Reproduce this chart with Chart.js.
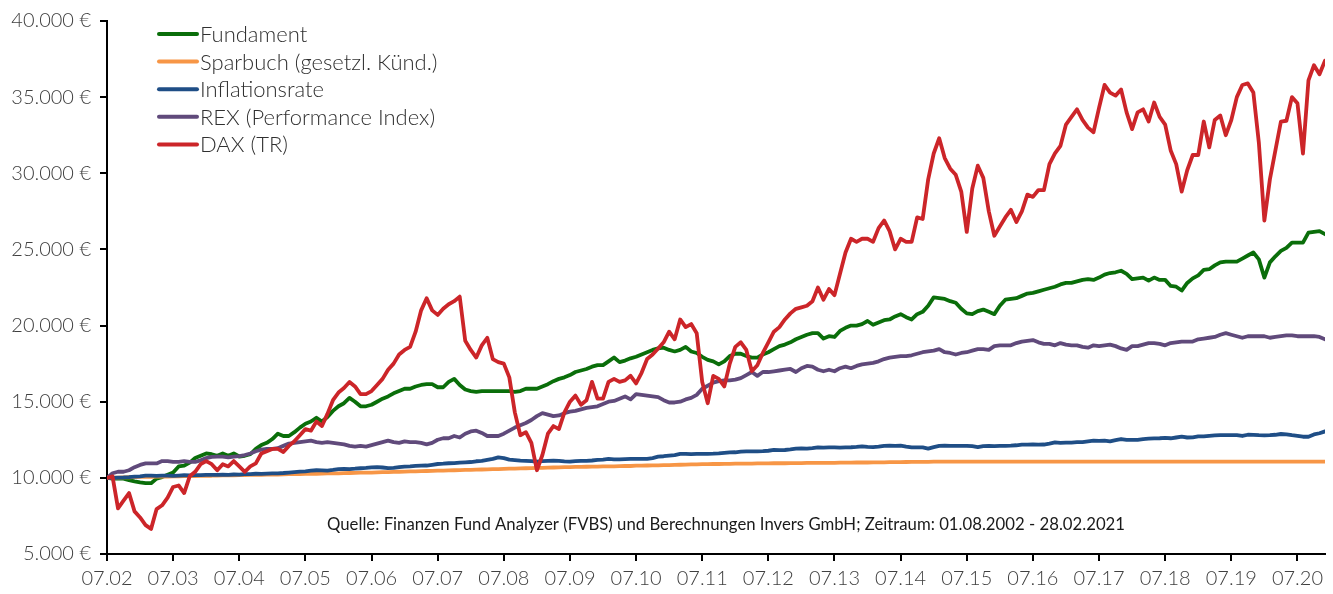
<!DOCTYPE html>
<html>
<head>
<meta charset="utf-8">
<script src="https://cdn.jsdelivr.net/npm/chart.js@4"></script>
<style>
  html, body { margin: 0; padding: 0; background: #fff; }
  canvas { display: block; }
</style>
</head>
<body>
<canvas id="chart" width="1333" height="594"></canvas>
<script>
// Monatswerte (Index 0 = 07.02), Startwert 10.000 €
const xTickLabels = ["07.02", "07.03", "07.04", "07.05", "07.06", "07.07", "07.08", "07.09", "07.10",
  "07.11", "07.12", "07.13", "07.14", "07.15", "07.16", "07.17", "07.18", "07.19", "07.20"];

const fundament = [
  10000, 9950, 9950, 9950, 9850, 9770, 9700, 9650, 9650, 9950, 10050, 10200,
  10350, 10750, 10800, 11000, 11300, 11450, 11600, 11550, 11450, 11600, 11450, 11600,
  11400, 11450, 11550, 11900, 12150, 12300, 12550, 12900, 12750, 12750, 13000, 13300,
  13550, 13700, 13950, 13700, 14000, 14400, 14700, 14900, 15250, 15000, 14700, 14700,
  14800, 15000, 15200, 15350, 15550, 15700, 15850, 15850, 16000, 16100, 16150, 16150,
  15950, 15950, 16300, 16500, 16100, 15800, 15700, 15650, 15700, 15700, 15700, 15700,
  15700, 15700, 15650, 15700, 15850, 15850, 15850, 16000, 16150, 16350, 16500, 16600,
  16750, 16950, 17050, 17150, 17300, 17400, 17400, 17650, 17900, 17600, 17700, 17850,
  17950, 18100, 18250, 18400, 18500, 18550, 18400, 18300, 18400, 18600, 18300, 18200,
  17950, 17750, 17650, 17450, 17650, 18000, 18150, 18150, 18000, 17900, 17900, 18100,
  18250, 18450, 18650, 18750, 18900, 19100, 19250, 19400, 19500, 19500, 19150, 19300,
  19250, 19650, 19850, 20000, 20000, 20100, 20300, 20050, 20200, 20350, 20400, 20600,
  20750, 20550, 20400, 20750, 20900, 21300, 21850, 21800, 21750, 21600, 21500, 21100,
  20800, 20750, 20950, 21050, 20900, 20750, 21300, 21700, 21750, 21800, 21950, 22100,
  22150, 22250, 22350, 22450, 22550, 22700, 22800, 22800, 22900, 23000, 23050, 23000,
  23150, 23350, 23450, 23500, 23600, 23400, 23050, 23100, 23150, 22950, 23150, 23000,
  23000, 22600, 22550, 22300, 22800, 23100, 23300, 23650, 23700, 23950, 24150, 24200,
  24200, 24200, 24400, 24600, 24800, 24350, 23150, 24150, 24550, 24900, 25100, 25450,
  25450, 25450, 26100, 26150, 26200, 26000
];

const sparbuch = [
  10000, 10010, 10020, 10030, 10040, 10050, 10060, 10060, 10070, 10080, 10080, 10090,
  10100, 10100, 10110, 10120, 10120, 10130, 10140, 10140, 10150, 10160, 10160, 10170,
  10180, 10180, 10190, 10200, 10200, 10210, 10220, 10220, 10230, 10240, 10240, 10250,
  10260, 10260, 10270, 10280, 10290, 10300, 10300, 10310, 10320, 10330, 10340, 10340,
  10350, 10360, 10370, 10380, 10390, 10400, 10410, 10420, 10430, 10440, 10450, 10460,
  10470, 10480, 10490, 10500, 10510, 10520, 10530, 10540, 10550, 10560, 10570, 10580,
  10590, 10600, 10610, 10620, 10630, 10640, 10650, 10660, 10670, 10680, 10690, 10700,
  10710, 10720, 10720, 10730, 10740, 10740, 10750, 10760, 10760, 10770, 10780, 10780,
  10800, 10800, 10810, 10820, 10820, 10830, 10840, 10850, 10860, 10870, 10880, 10890,
  10900, 10900, 10910, 10910, 10920, 10920, 10930, 10930, 10940, 10940, 10950, 10950,
  10950, 10960, 10960, 10960, 10970, 10970, 10970, 10980, 10980, 10980, 10990, 10990,
  10990, 11000, 11000, 11000, 11010, 11010, 11010, 11020, 11020, 11020, 11030, 11030,
  11030, 11040, 11050, 11050, 11050, 11050, 11060, 11060, 11060, 11060, 11060, 11060,
  11060, 11060, 11060, 11060, 11060, 11060, 11060, 11060, 11060, 11060, 11060, 11060,
  11060, 11060, 11060, 11060, 11060, 11060, 11060, 11060, 11060, 11060, 11060, 11060,
  11060, 11060, 11060, 11060, 11060, 11060, 11060, 11060, 11060, 11060, 11060, 11060,
  11060, 11060, 11060, 11060, 11060, 11060, 11060, 11060, 11060, 11060, 11060, 11060,
  11060, 11060, 11060, 11060, 11060, 11060, 11060, 11060, 11060, 11060, 11060, 11060,
  11060, 11060, 11060, 11060, 11060, 11060
];

const inflation = [
  10000, 10000, 10020, 10030, 10050, 10080, 10100, 10150, 10150, 10130, 10150, 10150,
  10130, 10150, 10170, 10160, 10180, 10180, 10190, 10200, 10200, 10210, 10200, 10220,
  10210, 10240, 10250, 10270, 10260, 10280, 10300, 10300, 10320, 10350, 10380, 10410,
  10430, 10470, 10500, 10490, 10480, 10520, 10570, 10590, 10580, 10600, 10630, 10650,
  10690, 10700, 10680, 10640, 10660, 10700, 10740, 10760, 10790, 10800, 10810, 10860,
  10910, 10930, 10960, 10970, 11000, 11020, 11040, 11090, 11110, 11180, 11250, 11350,
  11300, 11200, 11170, 11130, 11120, 11100, 11070, 11100, 11120, 11130, 11110, 11080,
  11070, 11100, 11110, 11120, 11140, 11180, 11200, 11240, 11220, 11220, 11230, 11240,
  11240, 11250, 11250, 11300, 11390, 11420, 11460, 11500, 11570, 11570, 11560, 11570,
  11580, 11580, 11590, 11610, 11640, 11670, 11680, 11720, 11740, 11740, 11740, 11750,
  11780, 11830, 11820, 11830, 11870, 11920, 11940, 11920, 11950, 12000, 11990, 12000,
  12000, 11980, 12000, 12010, 12030, 12070, 12030, 12020, 12050, 12100, 12110, 12100,
  12110, 12050, 12000, 12000, 12000, 11920, 12020, 12100, 12110, 12100, 12100, 12100,
  12100, 12080, 12020, 12080, 12100, 12080, 12100, 12100, 12110, 12140, 12180, 12180,
  12190, 12180, 12190, 12250, 12330, 12300, 12310, 12320, 12340, 12350, 12400, 12440,
  12430, 12440, 12390, 12480, 12550, 12500, 12490, 12500, 12550, 12570, 12590, 12600,
  12620, 12600, 12650, 12700, 12650, 12660, 12720, 12720, 12760, 12790, 12810, 12800,
  12810, 12800, 12750, 12830, 12820, 12800, 12790, 12800, 12830, 12880, 12860, 12800,
  12760, 12700, 12700, 12850, 12930, 13050
];

const rex = [
  10000, 10300, 10400, 10400, 10500, 10700, 10850, 10950, 10950, 10950, 11100, 11100,
  11050, 11050, 11100, 11050, 11050, 11150, 11300, 11380, 11400, 11400, 11350, 11400,
  11430, 11500, 11600, 11750, 11850, 11900, 11900, 11950, 12100, 12250, 12300, 12350,
  12400, 12450, 12350, 12300, 12350, 12300, 12250, 12200, 12100, 12050, 12100, 12050,
  12150, 12250, 12350, 12450, 12350, 12300, 12400, 12350, 12350, 12300, 12200, 12300,
  12500, 12600, 12600, 12750, 12650, 12900, 13050, 13100, 12950, 12750, 12750, 12750,
  12900, 13100, 13300, 13450, 13600, 13800, 14050, 14250, 14150, 14050, 14100, 14250,
  14350, 14400, 14500, 14600, 14650, 14700, 14850, 15000, 15050, 15200, 15350, 15150,
  15500, 15450, 15400, 15350, 15300, 15100, 14950, 14950, 15000, 15150, 15250, 15450,
  15850, 16050, 16250, 16350, 16400, 16400, 16450, 16550, 16750, 16950, 16700, 16950,
  16950, 17000, 17050, 17100, 17150, 16950, 17200, 17350, 17300, 17100, 17000, 17100,
  17000, 17200, 17300, 17200, 17350, 17450, 17500, 17550, 17650, 17800, 17900, 17950,
  18000, 18000, 18050, 18150, 18250, 18300, 18350, 18450, 18250, 18200, 18100, 18200,
  18250, 18350, 18450, 18450, 18400, 18650, 18700, 18700, 18700, 18850, 18950, 19000,
  19050, 18900, 18800, 18800, 18700, 18850, 18750, 18700, 18700, 18600, 18550, 18700,
  18650, 18700, 18750, 18650, 18500, 18400, 18650, 18650, 18750, 18850, 18850, 18800,
  18700, 18850, 18900, 18950, 18950, 18950, 19100, 19150, 19200, 19250, 19400, 19500,
  19400, 19300, 19200, 19300, 19300, 19300, 19300, 19200, 19250, 19300, 19350, 19350,
  19300, 19300, 19300, 19300, 19250, 19100
];

const dax = [
  10000, 10100, 8000, 8500, 9000, 7800, 7400, 6900, 6650, 7950, 8200, 8700,
  9400, 9500, 9000, 10100, 10400, 10900, 11100, 10900, 10500, 10900, 10750, 11100,
  10750, 10400, 10750, 10950, 11600, 11750, 11900, 11900, 11700, 12100, 12400, 12800,
  13200, 13100, 13700, 13400, 14200, 15100, 15600, 15900, 16300, 16000, 15500, 15500,
  15700, 16100, 16500, 17100, 17500, 18100, 18400, 18600, 19600, 21000, 21800, 21000,
  20700, 21100, 21400, 21600, 21900, 19000, 18400, 17900, 18700, 19200, 17800, 17600,
  17500, 16600, 14300, 12800, 13000, 12300, 10500, 11500, 12900, 13400, 13200, 14300,
  15000, 15400, 14800, 15100, 16300, 15200, 15200, 16300, 16500, 16300, 16400, 16700,
  16200, 16900, 17800, 18100, 18500, 18900, 19600, 19100, 20400, 19900, 20100, 19500,
  16300, 14900, 16700, 16500, 16000, 17500, 18600, 18900, 18400, 17000, 17400, 18200,
  18900, 19600, 19900, 20400, 20800, 21100, 21200, 21300, 21600, 22500, 21700, 22400,
  22000, 23400, 24800, 25700, 25500, 25700, 25700, 25500, 26400, 26900, 26200, 25000,
  25700, 25500, 25500, 27100, 27000, 29600, 31300, 32300, 31000, 30300, 29900, 28800,
  26150, 29000, 30500, 29700, 27500, 25900, 26500, 27100, 27600, 26800, 27500, 28600,
  28450, 28900, 28900, 30600, 31300, 31800, 33200, 33700, 34200, 33500, 33000, 32700,
  34300, 35800, 35300, 35100, 35500, 34000, 32900, 34000, 34200, 33400, 34650, 33700,
  33200, 31500, 30600, 28800, 30200, 31200, 31200, 33400, 31700, 33500, 33800, 32500,
  33500, 35000, 35800, 35900, 35300, 32000, 26900, 29600, 31500, 33400, 33450, 35000,
  34600, 31300, 36100, 37100, 36500, 37400
];

const sourceNote = "Quelle: Finanzen Fund Analyzer (FVBS) und Berechnungen Invers GmbH; Zeitraum: 01.08.2002 - 28.02.2021";

const FONT = "Lato, 'Open Sans', sans-serif";
const TEXT_COLOR = "#404040";

// Zahl als "40.000 €"
function formatEuro(v) {
    return String(v).replace(/\B(?=(\d{3})+(?!\d))/g, ".") + " €";
}

function toPoints(values) {
    return values.map((v, i) => ({ x: i, y: v }));
}

function makeDataset(label, values, color, order) {
    return {
        label: label,
        data: toPoints(values),
        borderColor: color,
        backgroundColor: color,
        borderWidth: 3.8,
        pointRadius: 0,
        tension: 0,
        borderJoinStyle: "round",
        borderCapStyle: "round",
        order: order,
    };
}

// Legende oben links im Diagramm
const legendPlugin = {
    id: "innerLegend",
    afterDraw(chart) {
        const ctx = chart.ctx;
        ctx.save();
        ctx.font = "300 22px " + FONT;
        ctx.textBaseline = "middle";
        chart.data.datasets.forEach((ds, i) => {
            const y = 34 + i * 27.6;
            ctx.strokeStyle = ds.borderColor;
            ctx.lineWidth = 4;
            ctx.lineCap = "round";
            ctx.beginPath();
            ctx.moveTo(159, y);
            ctx.lineTo(197, y);
            ctx.stroke();
            ctx.fillStyle = "#303030";
            ctx.fillText(ds.label, 200, y + 1);
        });
        ctx.restore();
    },
};

// Quellenangabe unten im Diagramm
const sourcePlugin = {
    id: "sourceNote",
    afterDraw(chart) {
        const ctx = chart.ctx;
        ctx.save();
        ctx.font = "17px " + FONT;
        ctx.fillStyle = "#1a1a1a";
        ctx.textBaseline = "middle";
        const w = ctx.measureText(sourceNote).width;
        const target = 798;
        ctx.translate(327, 525);
        ctx.scale(target / w, 1);
        ctx.fillText(sourceNote, 0, 0);
        ctx.restore();
    },
};

const axisTicks = {
    color: TEXT_COLOR,
    font: { family: FONT, size: 20, weight: 300 },
};

new Chart(document.getElementById("chart"), {
    type: "line",
    data: {
        datasets: [
            makeDataset("Fundament", fundament, "#0a6e0a", 4),
            makeDataset("Sparbuch (gesetzl. Künd.)", sparbuch, "#f79646", 3),
            makeDataset("Inflationsrate", inflation, "#1f4e86", 2),
            makeDataset("REX (Performance Index)", rex, "#604a7b", 1),
            makeDataset("DAX (TR)", dax, "#cc2529", 0),
        ],
    },
    options: {
        responsive: false,
        animation: false,
        layout: { padding: { top: 18, right: 8, left: 0, bottom: 0 } },
        plugins: {
            legend: { display: false },
            tooltip: { enabled: false },
        },
        scales: {
            x: {
                type: "linear",
                min: 0,
                max: fundament.length - 1,
                border: { color: "#000", width: 2 },
                grid: { drawOnChartArea: false, color: "#000", lineWidth: 2, tickLength: 7 },
                ticks: {
                    ...axisTicks,
                    stepSize: 12,
                    includeBounds: false,
                    autoSkip: false,
                    maxRotation: 0,
                    padding: 6,
                    callback: (v) => xTickLabels[v / 12] || "",
                },
                afterFit: (scale) => { scale.height = 40; },
            },
            y: {
                min: 5000,
                max: 40000,
                border: { color: "#000", width: 2 },
                grid: { drawOnChartArea: false, color: "#000", lineWidth: 2, tickLength: 7 },
                ticks: {
                    ...axisTicks,
                    stepSize: 5000,
                    padding: 9,
                    callback: (v) => formatEuro(v),
                },
                afterFit: (scale) => { scale.width = 107; },
            },
        },
    },
    plugins: [legendPlugin, sourcePlugin],
});
</script>
</body>
</html>
